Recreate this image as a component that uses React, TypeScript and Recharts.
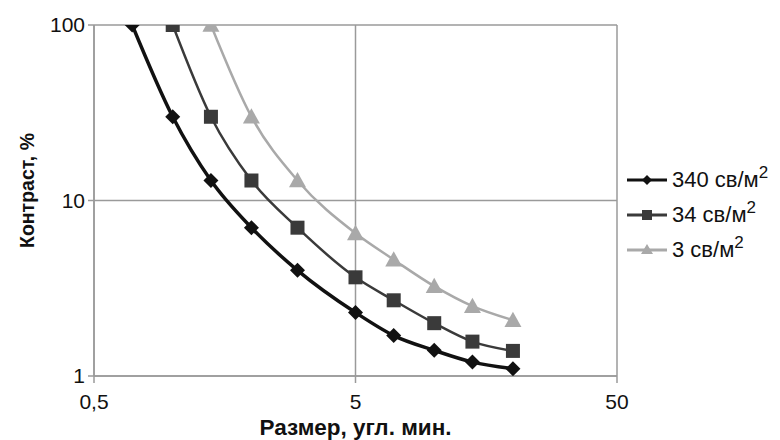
import React from 'react';
import { LineChart, Line, XAxis, YAxis, CartesianGrid, Legend } from 'recharts';

const sizes = [0.7, 1, 1.4, 2, 3, 5, 7, 10, 14, 20];
const s340 = [100, 30, 13, 7, 4, 2.3, 1.7, 1.4, 1.2, 1.1];
const s34 = [null, 100, 30, 13, 7, 3.65, 2.7, 2, 1.57, 1.39];
const s3 = [null, null, 100, 30, 13, 6.5, 4.6, 3.25, 2.5, 2.08];
const xTicks = [0.5, 5, 50];
const yTicks = [1, 10, 100];
const seriesNames = ['340 св/м', '34 св/м', '3 св/м'];

const data = sizes.map((x, i) => ({ x, a: s340[i], b: s34[i], c: s3[i] }));

const FONT = '"Liberation Sans", Arial, sans-serif';
const C1 = '#111111';
const C2 = '#3a3a3a';
const C3 = '#a9a9a9';

const Diamond = (props: any) => {
  const { cx, cy, color, size = 7.5 } = props;
  if (cx == null || cy == null || props.value == null) return null;
  const r = size;
  return <path d={`M${cx},${cy - r}L${cx + r},${cy}L${cx},${cy + r}L${cx - r},${cy}Z`} fill={color} />;
};
const Square = (props: any) => {
  const { cx, cy, color, size = 7 } = props;
  if (cx == null || cy == null || props.value == null) return null;
  const r = size;
  return <rect x={cx - r} y={cy - r} width={2 * r} height={2 * r} fill={color} />;
};
const Triangle = (props: any) => {
  const { cx, cy, color, size = 8.5 } = props;
  if (cx == null || cy == null || props.value == null) return null;
  const r = size;
  return <path d={`M${cx},${cy - r}L${cx + r},${cy + r * 0.8}L${cx - r},${cy + r * 0.8}Z`} fill={color} />;
};

const LegendContent = () => {
  const items = [
    { name: seriesNames[0], color: C1, shape: 'd' },
    { name: seriesNames[1], color: C2, shape: 's' },
    { name: seriesNames[2], color: C3, shape: 't' },
  ];
  return (
    <div style={{ fontFamily: FONT, fontSize: 22, color: '#111' }}>
      {items.map((it) => (
        <div key={it.name} style={{ display: 'flex', alignItems: 'center', height: 35 }}>
          <svg width={45} height={20} style={{ display: 'block' }}>
            <line x1={0} y1={10} x2={40} y2={10} stroke={it.color} strokeWidth={3} />
            {it.shape === 'd' && <path d="M20,5L25,10L20,15L15,10Z" fill={it.color} />}
            {it.shape === 's' && <rect x={15} y={5} width={10} height={10} fill={it.color} />}
            {it.shape === 't' && <path d="M20,4L26,14L14,14Z" fill={it.color} />}
          </svg>
          <span>
            {it.name}
            <sup style={{ fontSize: 17, verticalAlign: 'top', position: 'relative', top: -4 }}>2</sup>
          </span>
        </div>
      ))}
    </div>
  );
};

const YLabel = (props: any) => {
  const vb = props.viewBox || { x: 0, y: 0, width: 0, height: 0 };
  const cx = 27;
  const cy = vb.y + vb.height / 2 - 10;
  return (
    <text x={cx} y={cy} transform={`rotate(-90 ${cx} ${cy})`} textAnchor="middle" dominantBaseline="central"
      style={{ fontFamily: FONT, fontSize: 19.5, fontWeight: 'bold', fill: '#111' }}>
      Контраст, %
    </text>
  );
};

const XLabel = (props: any) => {
  const vb = props.viewBox || { x: 0, y: 0, width: 0, height: 0 };
  const cx = vb.x + vb.width / 2;
  const cy = vb.y + 51;
  return (
    <text x={cx} y={cy} textAnchor="middle" dominantBaseline="central"
      style={{ fontFamily: FONT, fontSize: 22.5, fontWeight: 'bold', fill: '#111' }}>
      Размер, угл. мин.
    </text>
  );
};

export default function App() {
  return (
    <div style={{ position: 'absolute', left: 0, top: 0, background: '#fff' }}>
      <LineChart width={780} height={440} data={data} margin={{ top: 25, right: 163, bottom: 0, left: 0 }}>
        <CartesianGrid stroke="#9a9a9a" strokeWidth={1.5} horizontalValues={yTicks} verticalValues={xTicks} />
        <XAxis dataKey="x" type="number" scale="log" domain={[0.5, 50]} ticks={xTicks} allowDataOverflow
          height={64} stroke="#9a9a9a" strokeWidth={1.5} tickSize={7} tickMargin={11}
          tick={{ fill: '#111', fontSize: 21, fontFamily: FONT }}
          tickFormatter={(v: number) => String(v).replace('.', ',')}
          label={{ content: XLabel }} />
        <YAxis type="number" scale="log" domain={[1, 100]} ticks={yTicks} allowDataOverflow width={94}
          stroke="#9a9a9a" strokeWidth={1.5} tickSize={6} tickMargin={3}
          tick={{ fill: '#111', fontSize: 21, fontFamily: FONT }}
          label={{ content: YLabel }} />
        <Legend content={LegendContent} layout="horizontal" verticalAlign="middle" align="center"
          wrapperStyle={{ position: 'absolute', left: 627, top: 162, width: 153 }} />
        <Line type="monotone" dataKey="c" name={seriesNames[2]} stroke={C3} strokeWidth={2.5} dot={<Triangle color={C3} />}
          isAnimationActive={false} connectNulls={false} />
        <Line type="monotone" dataKey="b" name={seriesNames[1]} stroke={C2} strokeWidth={2.5} dot={<Square color={C2} />}
          isAnimationActive={false} connectNulls={false} />
        <Line type="monotone" dataKey="a" name={seriesNames[0]} stroke={C1} strokeWidth={3.5} dot={<Diamond color={C1} />}
          isAnimationActive={false} connectNulls={false} />
      </LineChart>
    </div>
  );
}
